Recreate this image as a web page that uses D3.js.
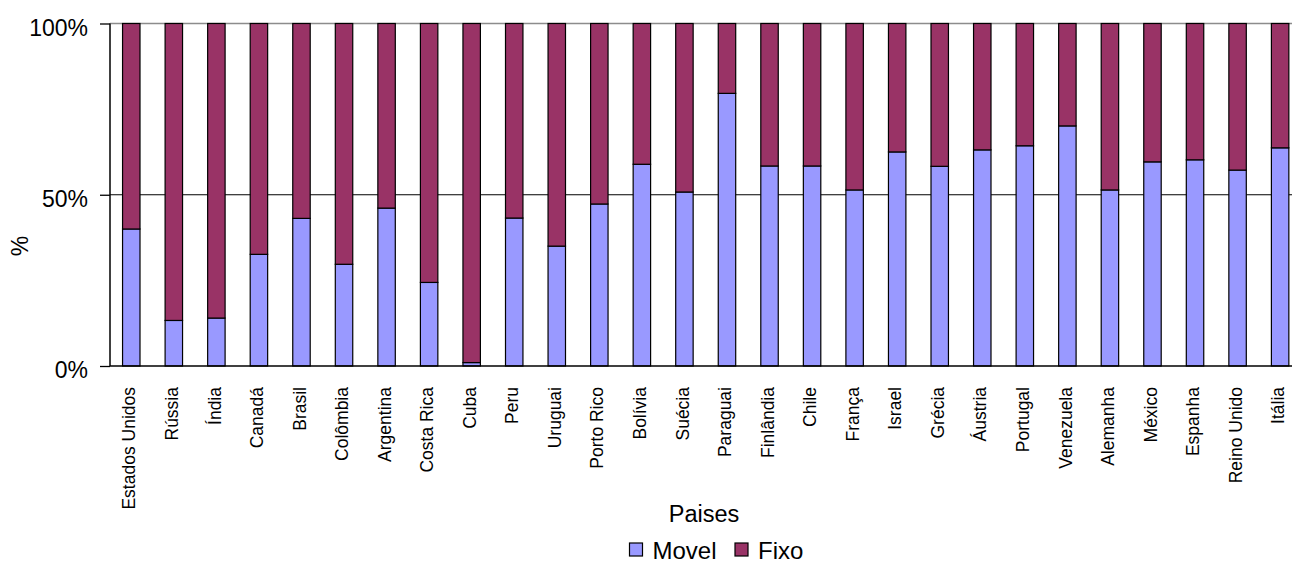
<!DOCTYPE html>
<html>
<head>
<meta charset="utf-8">
<script src="https://cdn.jsdelivr.net/npm/d3@7"></script>
<style>
  html, body { margin: 0; padding: 0; background: #fff; }
  svg { display: block; font-family: "Liberation Sans", Arial, sans-serif; }
</style>
</head>
<body>
<svg id="chart" width="1292" height="565"></svg>
<script>
// Share of mobile ("Movel") vs fixed ("Fixo") lines per country, in percent
const paises = ["Estados Unidos", "Rússia", "Índia", "Canadá", "Brasil", "Colômbia", "Argentina",
  "Costa Rica", "Cuba", "Peru", "Uruguai", "Porto Rico", "Bolívia", "Suécia", "Paraguai",
  "Finlândia", "Chile", "França", "Israel", "Grécia", "Áustria", "Portugal", "Venezuela",
  "Alemanha", "México", "Espanha", "Reino Unido", "Itália"];
const movel = [40, 13.3, 14, 32.6, 43.1, 29.7, 46.1, 24.4, 1.0, 43.2, 35, 47.3, 58.9, 50.8, 79.6,
  58.4, 58.4, 51.4, 62.5, 58.3, 63.1, 64.3, 70.1, 51.4, 59.6, 60.2, 57.2, 63.7];
const fixo = [60, 86.7, 86, 67.4, 56.9, 70.3, 53.9, 75.6, 99, 56.8, 65, 52.7, 41.1, 49.2, 20.4,
  41.6, 41.6, 48.6, 37.5, 41.7, 36.9, 35.7, 29.9, 48.6, 40.4, 39.8, 42.8, 36.3];
const yTicks = [0, 50, 100];
const seriesNames = ["Movel", "Fixo"];
const seriesColors = ["#9999ff", "#993366"];

const svg = d3.select("#chart");
const plotLeft = 110, plotTop = 23.5, plotBottom = 366;
const step = 42.55;
const plotRight = plotLeft + paises.length * step;

const rows = paises.map((p, i) => ({ pais: p, Movel: movel[i], Fixo: fixo[i] }));
const stacked = d3.stack().keys(seriesNames)(rows);

const x = d3.scaleBand().domain(paises).range([plotLeft, plotRight])
  .paddingInner(0.59).paddingOuter(0.295);
const y = d3.scaleLinear().domain([0, 100]).range([plotBottom, plotTop]);
const color = d3.scaleOrdinal().domain(seriesNames).range(seriesColors);

// horizontal gridlines
svg.append("g").selectAll("line").data(yTicks.filter(t => t > 0)).join("line")
  .attr("x1", plotLeft).attr("x2", plotRight)
  .attr("y1", d => y(d)).attr("y2", d => y(d))
  .attr("stroke", d => d === 100 ? "#8c8c8c" : "#000")
  .attr("stroke-width", d => d === 100 ? 1.6 : 1.2);

// stacked bars
svg.append("g").selectAll("g").data(stacked).join("g")
  .attr("fill", d => color(d.key))
  .selectAll("rect").data(d => d).join("rect")
  .attr("x", d => x(d.data.pais))
  .attr("width", x.bandwidth())
  .attr("y", d => y(d[1]))
  .attr("height", d => y(d[0]) - y(d[1]))
  .attr("stroke", "#000")
  .attr("stroke-width", 1.2);

// y axis
const yAxis = svg.append("g").attr("transform", `translate(${plotLeft},0)`)
  .call(d3.axisLeft(y).tickValues(yTicks).tickFormat(d => d + "%").tickSize(10).tickPadding(12));
yAxis.select(".domain").attr("stroke", "#000").attr("stroke-width", 1.5).attr("d", `M0,${plotTop}V${plotBottom}`);
yAxis.selectAll(".tick line").attr("stroke", "#000").attr("stroke-width", 1.3);
yAxis.selectAll(".tick text").attr("font-size", 23).attr("fill", "#000")
  .attr("font-family", "'Liberation Sans', Arial, sans-serif").attr("dy", "0.5em");

// x axis
const xAxis = svg.append("g").attr("transform", `translate(0,${plotBottom})`)
  .call(d3.axisBottom(x).tickSize(0).tickPadding(0));
xAxis.select(".domain").attr("stroke", "#000").attr("stroke-width", 1.5).attr("d", `M${plotLeft},0H${plotRight}`);
xAxis.selectAll(".tick text")
  .attr("font-size", 17.5).attr("fill", "#000")
  .attr("font-family", "'Liberation Sans', Arial, sans-serif")
  .attr("transform", "rotate(-90)")
  .attr("text-anchor", "end")
  .attr("x", -21).attr("y", -2).attr("dy", "0.35em");

// axis titles
svg.append("text").attr("transform", "translate(28,246) rotate(-90)")
  .attr("text-anchor", "middle").attr("font-size", 23).text("%");
svg.append("text").attr("x", 704).attr("y", 522)
  .attr("text-anchor", "middle").attr("font-size", 23.5).text("Paises");

// legend
const legendX = [629.5, 735];
const legend = svg.append("g").selectAll("g").data(seriesNames).join("g")
  .attr("transform", (d, i) => `translate(${legendX[i]},543)`);
legend.append("rect").attr("width", 13).attr("height", 13)
  .attr("fill", d => color(d)).attr("stroke", "#000").attr("stroke-width", 1.2);
legend.append("text").attr("x", 23).attr("y", 16)
  .attr("font-size", 24).text(d => d);
</script>
</body>
</html>
